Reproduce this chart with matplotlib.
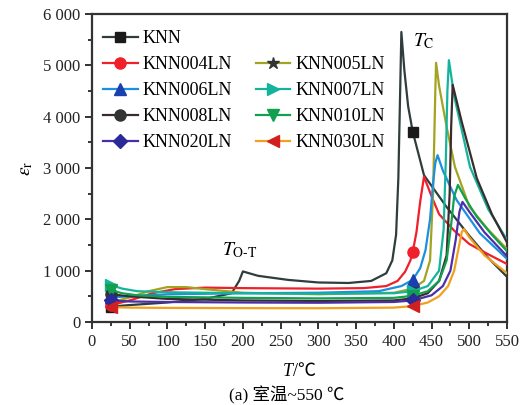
import matplotlib
matplotlib.use("Agg")
import matplotlib.pyplot as plt
from matplotlib.lines import Line2D
from matplotlib.ticker import MultipleLocator

plt.rcParams['font.family'] = ['Liberation Serif', 'Noto Sans CJK SC', 'DejaVu Sans']
plt.rcParams['mathtext.fontset'] = 'stix'

# ---- data ----
T_KNN = [25, 50, 100, 150, 185, 195, 200, 220, 260, 300, 340, 370, 390, 398, 403, 406, 408, 410, 414, 419, 425, 440, 470, 500, 525, 550]
E_KNN = [300, 330, 380, 450, 560, 800, 985, 900, 820, 770, 760, 800, 950, 1200, 1700, 2800, 4200, 5650, 4900, 4200, 3710, 2860, 2240, 1680, 1250, 880]

T_004 = [25, 50, 80, 110, 150, 200, 300, 360, 390, 405, 415, 422, 425, 430, 435, 440, 450, 460, 480, 500, 525, 550]
E_004 = [330, 420, 560, 640, 670, 660, 650, 660, 700, 800, 980, 1200, 1360, 1750, 2350, 2830, 2450, 2100, 1780, 1520, 1320, 1130]

T_005 = [25, 50, 75, 100, 125, 150, 200, 300, 400, 425, 440, 448, 452, 455, 456, 460, 470, 481, 500, 525, 550]
E_005 = [380, 480, 600, 680, 680, 640, 570, 540, 570, 650, 800, 1200, 2500, 4500, 5050, 4600, 3800, 3020, 2250, 1800, 1420]

T_006 = [25, 50, 100, 200, 300, 380, 410, 425, 435, 442, 448, 452, 455, 458, 465, 483, 514, 550]
E_006 = [480, 500, 540, 560, 570, 600, 700, 820, 1050, 1400, 2000, 2700, 3100, 3250, 2950, 2380, 1730, 1230]

T_007 = [25, 40, 60, 100, 200, 300, 400, 425, 445, 460, 466, 469, 471, 473, 480, 501, 525, 550]
E_007 = [720, 650, 600, 580, 560, 550, 560, 600, 700, 1000, 1800, 3200, 4500, 5100, 4400, 3020, 2200, 1600]

T_008 = [25, 50, 100, 200, 300, 400, 425, 445, 460, 470, 474, 476, 478, 490, 510, 530, 550]
E_008 = [540, 500, 450, 420, 410, 420, 460, 560, 800, 1300, 2500, 3800, 4620, 3900, 2800, 2100, 1550]

T_010 = [25, 40, 60, 100, 200, 300, 400, 425, 445, 460, 470, 476, 480, 485, 495, 510, 530, 550]
E_010 = [620, 560, 520, 490, 470, 460, 470, 510, 600, 800, 1200, 1900, 2450, 2670, 2400, 2050, 1700, 1380]

T_020 = [25, 50, 100, 200, 300, 400, 425, 450, 465, 475, 482, 487, 491, 500, 520, 550]
E_020 = [420, 400, 390, 380, 375, 390, 420, 520, 700, 1000, 1600, 2150, 2340, 2150, 1750, 1280]

T_030 = [25, 50, 100, 200, 300, 400, 425, 445, 460, 472, 480, 486, 490, 493, 500, 520, 550]
E_030 = [290, 280, 275, 270, 268, 280, 310, 380, 500, 700, 1000, 1450, 1750, 1810, 1650, 1300, 950]

labels = ['KNN', 'KNN004LN', 'KNN005LN', 'KNN006LN', 'KNN007LN',
          'KNN008LN', 'KNN010LN', 'KNN020LN', 'KNN030LN']
temps = [T_KNN, T_004, T_005, T_006, T_007, T_008, T_010, T_020, T_030]
values = [E_KNN, E_004, E_005, E_006, E_007, E_008, E_010, E_020, E_030]
colors = ['#2f3d3d', '#f0202a', '#a3a322', '#1b8fe0', '#14b49c',
          '#3a2c2c', '#12a050', '#4a2fa8', '#f0a01e']
mfcs = ['#1a1a1a', '#f0202a', '#333333', '#1a3fb0', '#14b49c',
        '#333333', '#12a050', '#2a2a9a', '#d02020']
markers = ['s', 'o', '*', '^', '>', 'o', 'v', 'D', '<']
msizes = [7, 8, 9, 8, 8, 8, 8, 7, 8]

xticks = [0, 50, 100, 150, 200, 250, 300, 350, 400, 450, 500, 550]
yticks = [0, 1000, 2000, 3000, 4000, 5000, 6000]
ytick_labels = ['0', '1 000', '2 000', '3 000', '4 000', '5 000', '6 000']

fig = plt.figure(figsize=(5.24, 4.05), dpi=100)
ax = fig.add_axes([92/524, (405-322)/405, (507-92)/524, (322-14)/405])

handles = []
for T, E, lab, c, mfc, m, ms in zip(temps, values, labels, colors, mfcs, markers, msizes):
    idx = [0, T.index(425)]
    ln, = ax.plot(T, E, color=c, lw=1.6, marker=m, markersize=ms,
                  markerfacecolor=mfc, markeredgecolor=mfc, markevery=idx,
                  label=lab, zorder=3)
    handles.append(ln)

ax.set_xlim(0, 550)
ax.set_ylim(0, 6000)
ax.set_xticks(xticks)
ax.set_yticks(yticks)
ax.set_yticklabels(ytick_labels)
ax.xaxis.set_minor_locator(MultipleLocator(25))
ax.yaxis.set_minor_locator(MultipleLocator(500))
ax.tick_params(which='major', direction='out', length=5, width=1.3, labelsize=12, colors='#222222')
ax.tick_params(which='minor', direction='out', length=3, width=1.1)
for s in ax.spines.values():
    s.set_linewidth(1.6)
    s.set_color('#333333')

ax.set_ylabel(r'$\varepsilon_{\mathrm{r}}$', fontsize=14, labelpad=6)

# x label "T/℃"
fig.text(293/524, 1 - 372/405, 'T', fontsize=13, style='italic', ha='right', va='center',
         family=['Liberation Serif'])
fig.text(293/524, 1 - 372/405, '/℃', fontsize=13, ha='left', va='center',
         family=['Liberation Serif', 'Noto Sans CJK SC'])

ax.text(426, 5470, r'$T_{\mathrm{C}}$', fontsize=14, va='center', ha='left')
ax.text(172, 1400, r'$T_{\text{O-T}}$', fontsize=14, va='center', ha='left')

blank = Line2D([], [], linestyle='none', marker='none')
order = [0, 1, 3, 5, 7]
order2 = [2, 4, 6, 8]
leg_h = [handles[i] for i in order] + [blank] + [handles[i] for i in order2]
leg_l = [labels[i] for i in order] + [''] + [labels[i] for i in order2]
ax.legend(leg_h, leg_l, ncol=2, loc='upper left', bbox_to_anchor=(0.027, 0.948),
          frameon=False, fontsize=13, borderpad=0, borderaxespad=0,
          labelspacing=0.5, handlelength=1.9, handletextpad=0.3,
          columnspacing=1.3)

fig.text(287/524, 1 - 395/405, '(a) 室温~550 ℃', fontsize=12.5, ha='center', va='center',
         family=['Liberation Serif', 'Noto Sans CJK SC'])

fig.savefig('out.png', dpi=100)
